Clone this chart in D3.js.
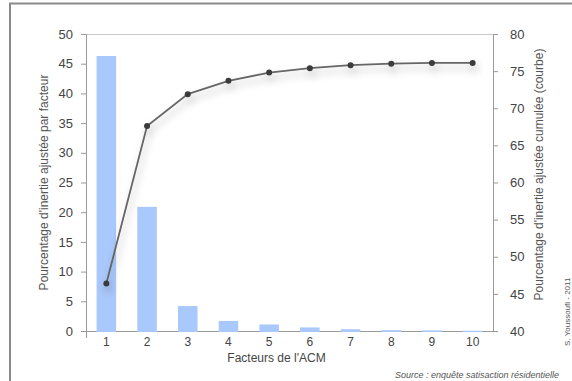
<!DOCTYPE html>
<html><head><meta charset="utf-8">
<script src="https://cdn.jsdelivr.net/npm/d3@7"></script>
<style>body{margin:0;background:#fff}svg{display:block;font-family:"Liberation Sans",Arial,sans-serif}</style>
</head><body>
<svg id="c" width="572" height="381"></svg>
<script>
const categories = ["1","2","3","4","5","6","7","8","9","10"];
const barValues = [46.3, 20.9, 4.2, 1.7, 1.1, 0.6, 0.3, 0.15, 0.1, 0.05];
const cumValues = [46.4, 67.6, 71.9, 73.7, 74.8, 75.4, 75.8, 76.0, 76.1, 76.1];
const leftTicks = [0,5,10,15,20,25,30,35,40,45,50];
const rightTicks = [40,45,50,55,60,65,70,75,80];

const svg = d3.select("#c");
const m = {l:86, r:493, t:34, b:331};
svg.append("path").attr("d","M10,381 V3.5 H572").attr("fill","none").attr("stroke","#8a8a8a").attr("stroke-width",2);

const x = d3.scaleBand().domain(categories).range([m.l,m.r]).paddingInner(0.52).paddingOuter(0.26);
const yL = d3.scaleLinear().domain([0,50]).range([m.b,m.t]);
const yR = d3.scaleLinear().domain([40,80]).range([m.b,m.t]);

const defs = svg.append("defs");
const f = defs.append("filter").attr("id","sh").attr("x","-20%").attr("y","-20%").attr("width","140%").attr("height","160%");
f.append("feGaussianBlur").attr("in","SourceAlpha").attr("stdDeviation",4);
f.append("feOffset").attr("dx",2).attr("dy",5).attr("result","b");
f.append("feComponentTransfer").append("feFuncA").attr("type","linear").attr("slope",0.3);
const mg = f.append("feMerge"); mg.append("feMergeNode"); mg.append("feMergeNode").attr("in","SourceGraphic");

svg.append("line").attr("x1",m.l).attr("x2",m.r).attr("y1",m.t+0.5).attr("y2",m.t+0.5).attr("stroke","#c8c8c8");
svg.append("line").attr("x1",m.l).attr("x2",m.r).attr("y1",m.b+0.5).attr("y2",m.b+0.5).attr("stroke","#9a9a9a");

svg.append("g").selectAll("rect").data(barValues).join("rect")
  .attr("x",(d,i)=>x(categories[i])).attr("width",x.bandwidth())
  .attr("y",d=>yL(d)).attr("height",d=>m.b+0.5-yL(d)+0.5).attr("fill","#a9c8fb");

const gl = svg.append("g").attr("transform",`translate(${m.l},0)`)
  .call(d3.axisLeft(yL).tickValues(leftTicks).tickSize(5).tickPadding(8));
const gr = svg.append("g").attr("transform",`translate(${m.r},0)`)
  .call(d3.axisRight(yR).tickValues(rightTicks).tickSize(5).tickPadding(12));
[gl,gr].forEach(g=>{
  g.select(".domain").attr("stroke","#9a9a9a");
  g.selectAll(".tick line").attr("stroke","#9a9a9a");
  g.selectAll("text").attr("font-size",13).attr("fill","#444").attr("font-family","Liberation Sans, Arial, sans-serif");
});
svg.append("line").attr("x1",m.l+0.5).attr("x2",m.l+0.5).attr("y1",m.b).attr("y2",m.b+7).attr("stroke","#9a9a9a");
svg.append("g").selectAll("text").data(categories).join("text")
  .attr("x",d=>x(d)+x.bandwidth()/2).attr("y",m.b+15).attr("text-anchor","middle")
  .attr("font-size",12).attr("fill","#444").text(d=>d);

const line = d3.line().x((d,i)=>x(categories[i])+x.bandwidth()/2).y(d=>yR(d));
const lg = svg.append("g").attr("filter","url(#sh)");
lg.append("path").datum(cumValues).attr("d",line).attr("fill","none").attr("stroke","#666").attr("stroke-width",1.8);
lg.selectAll("circle").data(cumValues).join("circle")
  .attr("cx",(d,i)=>x(categories[i])+x.bandwidth()/2).attr("cy",d=>yR(d)).attr("r",3).attr("fill","#3a3a3a");

svg.append("text").attr("x",m.l+(m.r-m.l)/2 - 13).attr("y",362).attr("text-anchor","middle")
  .attr("font-size",12).attr("fill","#444").text("Facteurs de l'ACM");
svg.append("text").attr("transform",`translate(48,${(m.t+m.b)/2}) rotate(-90)`).attr("text-anchor","middle")
  .attr("font-size",12).attr("fill","#555").text("Pourcentage d'inertie ajustée par facteur");
svg.append("text").attr("transform",`translate(543,${(m.t+m.b)/2 - 8}) rotate(-90)`).attr("text-anchor","middle")
  .attr("font-size",12).attr("fill","#555").text("Pourcentage d'inertie ajustée cumulée (courbe)");
svg.append("text").attr("transform",`translate(570,346) rotate(-90)`).attr("text-anchor","start")
  .attr("font-size",8).attr("fill","#555").text("S. Youssoufi - 2011");
svg.append("text").attr("x",559).attr("y",378).attr("text-anchor","end").attr("font-style","italic")
  .attr("font-size",9).attr("fill","#555").text("Source : enquête satisaction résidentielle");
</script>
</body></html>
